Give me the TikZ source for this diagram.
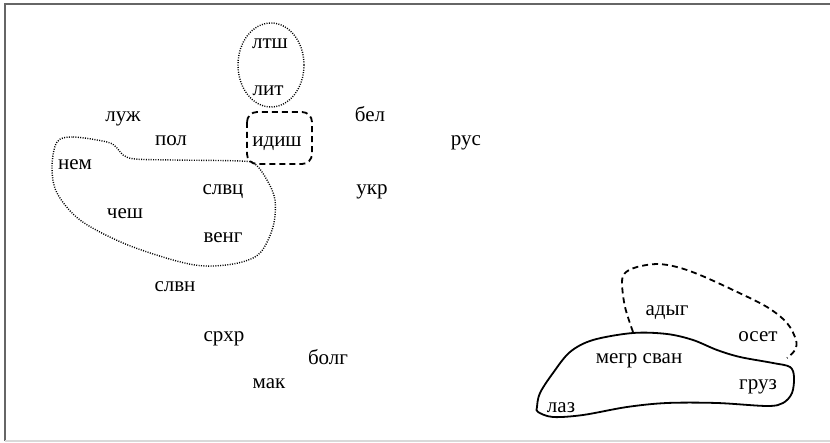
\documentclass[tikz,border=0pt]{standalone}
\usepackage{fontspec}
\setmainfont{Liberation Serif}
\begin{document}
\begin{tikzpicture}[x=1pt,y=-1pt,
  lang/.style={anchor=base,inner sep=0pt,font=\fontsize{21}{25}\selectfont},
  dotline/.style={line width=1.4pt,dash pattern=on 1pt off 1.4pt},
  dashline/.style={line width=1.8pt,dash pattern=on 6pt off 4pt},
  solidline/.style={line width=1.8pt}]
\useasboundingbox (0,0) rectangle (830,443);
\fill[white] (0,0) rectangle (830,443);
\draw[gray!80!black,line width=1.2pt] (5,441) -- (5,4) -- (830,4);
\draw[gray!30,line width=1.2pt] (5,441) -- (830,441);

% languages
\node[lang] (ltsh) at (270,49) {лтш};
\node[lang] (lit) at (268,96) {лит};
\node[lang] (luzh) at (123,122) {луж};
\node[lang] (pol) at (171,146) {пол};
\node[lang] (idish) at (277,147) {идиш};
\node[lang] (bel) at (370,122) {бел};
\node[lang] (rus) at (466,146) {рус};
\node[lang] (nem) at (75,170) {нем};
\node[lang] (slvc) at (223,195) {слвц};
\node[lang] (ukr) at (372,195) {укр};
\node[lang] (chesh) at (125,219) {чеш};
\node[lang] (veng) at (223,243) {венг};
\node[lang] (slvn) at (175,292) {слвн};
\node[lang] (srhr) at (224,342) {срхр};
\node[lang] (bolg) at (328,365) {болг};
\node[lang] (mak) at (269,389) {мак};
\node[lang] (adyg) at (667,316) {адыг};
\node[lang] (oset) at (758,342) {осет};
\node[lang] (megr) at (639,364) {мегр сван};
\node[lang] (gruz) at (758,390) {груз};
\node[lang] (laz) at (561,413) {лаз};

% groupings
\draw[dotline] (271,65) ellipse [x radius=33, y radius=42];
\draw[dashline,rounded corners=10pt] (247,112) rectangle (312,164);
\draw[dotline] plot[smooth cycle,tension=0.55] coordinates {
 (57,142) (73,137) (107,142) (117,148) (123,155) (135,159) (173,160) (240,161)
 (255,164) (267,180) (275,200) (273,227) (260,253) (238,263) (205,266)
 (173,260) (123,243) (80,220) (57,193) (52,167)};
\draw[solidline] plot[smooth cycle,tension=0.55] coordinates {
 (537,407) (540,393) (553,373) (570,352) (593,340) (633,333) (667,334)
 (693,340) (717,350) (740,357) (773,363) (790,367) (794,377) (792,393)
 (783,403) (767,406) (717,403) (667,403) (627,407) (583,415) (553,417) (538,412)};
\draw[dashline] plot[smooth,tension=0.55] coordinates {
 (633,332) (625,307) (622,283) (625,273) (637,267) (657,264) (677,267)
 (700,275) (733,290) (767,307) (787,323) (796,340) (795,350) (787,358)};
\end{tikzpicture}
\end{document}
